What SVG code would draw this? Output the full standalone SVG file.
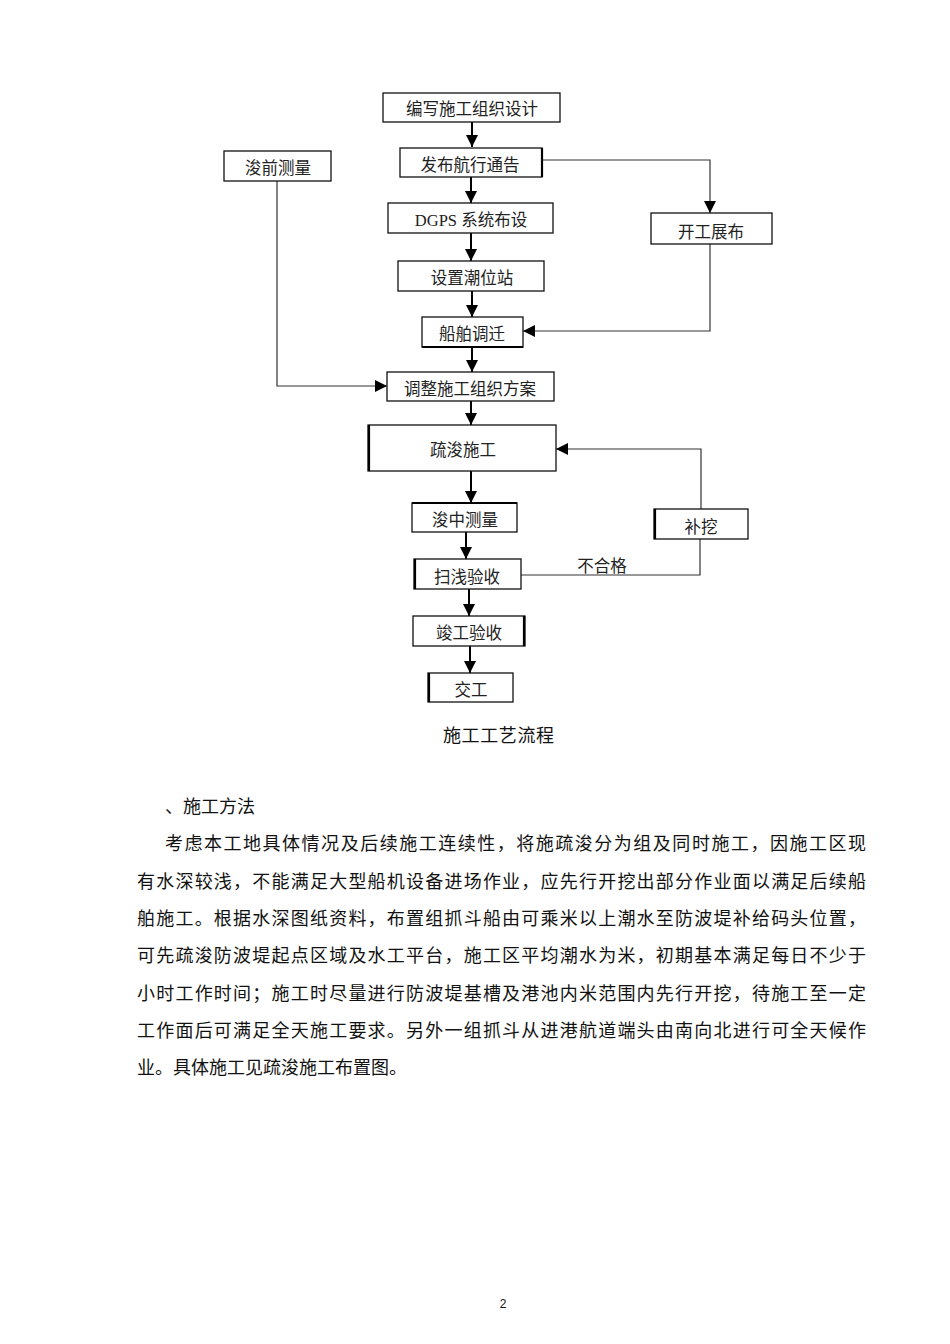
<svg xmlns="http://www.w3.org/2000/svg" width="950" height="1344" viewBox="0 0 950 1344">
<style>
.box{fill:#fff;stroke:#111;stroke-width:1.3}
.lbl{font-family:"Liberation Serif","Noto Sans CJK SC",serif;font-size:16.5px;fill:#222;text-anchor:middle}
.main{stroke:#000;stroke-width:2;fill:none}
.thin{stroke:#333;stroke-width:1.2;fill:none}
.body{font-family:"Liberation Serif","Noto Sans CJK SC",serif;font-size:18px;fill:#111}
</style>
<defs>
<marker id="ah" markerUnits="userSpaceOnUse" markerWidth="12" markerHeight="12" viewBox="0 0 12 12" refX="12" refY="6" orient="auto">
<path d="M0,0 L12,6 L0,12 Z" fill="#000"/>
</marker>
</defs>
<rect width="950" height="1344" fill="#fff"/>

<g id="connectors">
<path class="main" d="M472,122 V147" marker-end="url(#ah)"/>
<path class="main" d="M471,177 V203" marker-end="url(#ah)"/>
<path class="main" d="M471,233 V261" marker-end="url(#ah)"/>
<path class="main" d="M472,291 V317" marker-end="url(#ah)"/>
<path class="main" d="M472,347 V372" marker-end="url(#ah)"/>
<path class="main" d="M471,401 V425" marker-end="url(#ah)"/>
<path class="main" d="M471,471 V503" marker-end="url(#ah)"/>
<path class="main" d="M466,532 V559" marker-end="url(#ah)"/>
<path class="main" d="M469,589 V616" marker-end="url(#ah)"/>
<path class="main" d="M470,646 V673" marker-end="url(#ah)"/>
<path class="thin" d="M542,160 H710 V213" marker-end="url(#ah)"/>
<path class="thin" d="M710,244 V331 H523" marker-end="url(#ah)"/>
<path class="thin" d="M277,181 V386 H387" marker-end="url(#ah)"/>
<path class="thin" d="M521,575 H700 V539"/>
<path class="thin" d="M701,509 V449 H556" marker-end="url(#ah)"/>
<text class="lbl" x="602" y="572">不合格</text>
</g>

<g id="n1"><rect class="box" x="383" y="93" width="177" height="29"/><text class="lbl" x="472" y="115">编写施工组织设计</text></g>
<g id="n2"><rect class="box" x="400" y="148" width="142" height="29"/><line x1="542" y1="148" x2="542" y2="177" stroke="#000" stroke-width="2.2"/><text class="lbl" x="470" y="171">发布航行通告</text></g>
<g id="n3"><rect class="box" x="388" y="203" width="165" height="30"/><text class="lbl" x="471" y="226">DGPS 系统布设</text></g>
<g id="n4"><rect class="box" x="398" y="261" width="146" height="30"/><text class="lbl" x="472" y="284">设置潮位站</text></g>
<g id="n5"><rect class="box" x="422" y="317" width="101" height="30"/><line x1="422" y1="347" x2="523" y2="347" stroke="#000" stroke-width="2.2"/><text class="lbl" x="472" y="340">船舶调迁</text></g>
<g id="n6"><rect class="box" x="387" y="372" width="167" height="29"/><text class="lbl" x="470" y="395">调整施工组织方案</text></g>
<g id="n7"><rect class="box" x="368" y="425" width="188" height="46"/><line x1="369" y1="425" x2="369" y2="471" stroke="#000" stroke-width="2.2"/><text class="lbl" x="463" y="456">疏浚施工</text></g>
<g id="n8"><rect class="box" x="412" y="503" width="105" height="29"/><line x1="412" y1="503" x2="517" y2="503" stroke="#000" stroke-width="2.2"/><text class="lbl" x="465" y="526">浚中测量</text></g>
<g id="n9"><rect class="box" x="414" y="559" width="107" height="30"/><line x1="415" y1="559" x2="415" y2="589" stroke="#000" stroke-width="2.2"/><text class="lbl" x="467" y="583">扫浅验收</text></g>
<g id="n10"><rect class="box" x="413" y="616" width="112" height="30"/><line x1="524" y1="616" x2="524" y2="646" stroke="#000" stroke-width="2.2"/><text class="lbl" x="469" y="639">竣工验收</text></g>
<g id="n11"><rect class="box" x="428" y="673" width="85" height="29"/><line x1="429" y1="673" x2="429" y2="702" stroke="#000" stroke-width="2.2"/><text class="lbl" x="471" y="696">交工</text></g>
<g id="n12"><rect class="box" x="224" y="151" width="107" height="30"/><text class="lbl" x="278" y="174">浚前测量</text></g>
<g id="n13"><rect class="box" x="651" y="213" width="121" height="31"/><text class="lbl" x="711" y="238">开工展布</text></g>
<g id="n14"><rect class="box" x="654" y="509" width="94" height="30"/><line x1="655" y1="509" x2="655" y2="539" stroke="#000" stroke-width="2.2"/><text class="lbl" x="701" y="533">补挖</text></g>

<g id="text">
<text class="body" x="443" y="742" textLength="111">施工工艺流程</text>
<text class="body" x="165" y="813">、施工方法</text>
<text class="body" x="165" y="850" textLength="701" lengthAdjust="spacing">考虑本工地具体情况及后续施工连续性，将施疏浚分为组及同时施工，因施工区现</text>
<text class="body" x="137" y="888" textLength="729" lengthAdjust="spacing">有水深较浅，不能满足大型船机设备进场作业，应先行开挖出部分作业面以满足后续船</text>
<text class="body" x="137" y="925" textLength="729" lengthAdjust="spacing">舶施工。根据水深图纸资料，布置组抓斗船由可乘米以上潮水至防波堤补给码头位置，</text>
<text class="body" x="137" y="962" textLength="729" lengthAdjust="spacing">可先疏浚防波堤起点区域及水工平台，施工区平均潮水为米，初期基本满足每日不少于</text>
<text class="body" x="137" y="1000" textLength="729" lengthAdjust="spacing">小时工作时间；施工时尽量进行防波堤基槽及港池内米范围内先行开挖，待施工至一定</text>
<text class="body" x="137" y="1037" textLength="729" lengthAdjust="spacing">工作面后可满足全天施工要求。另外一组抓斗从进港航道端头由南向北进行可全天候作</text>
<text class="body" x="137" y="1074">业。具体施工见疏浚施工布置图。</text>
<text x="503" y="1308" font-family="Liberation Sans, sans-serif" font-size="12" text-anchor="middle" fill="#111">2</text>
</g>
</svg>
